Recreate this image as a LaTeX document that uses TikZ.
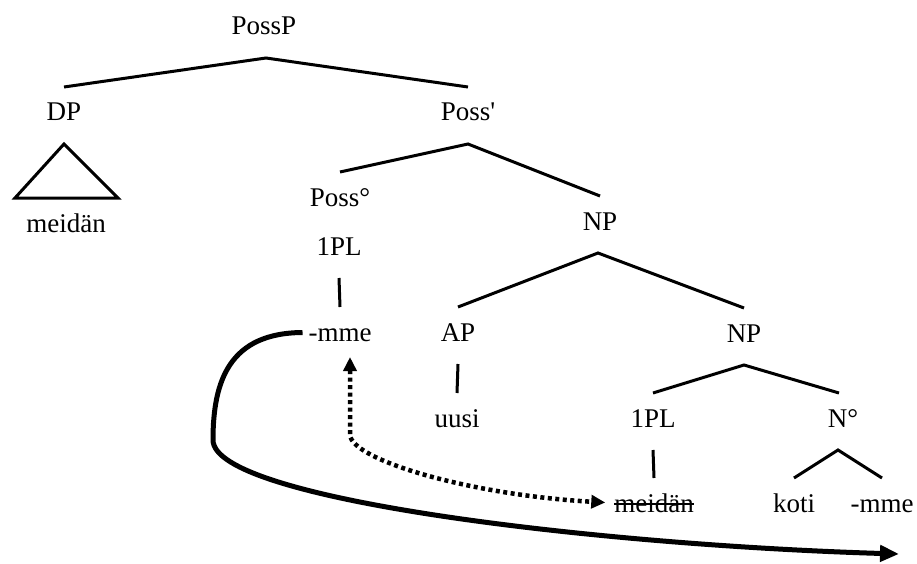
\documentclass[tikz,border=0pt]{standalone}
\usepackage{fontspec}
\setmainfont{Liberation Serif}
\newfontfamily\rawserif{Liberation Serif}
\usetikzlibrary{arrows.meta}
\begin{document}
\begin{tikzpicture}[x=1pt,y=-1pt,
  tn/.style={inner sep=0pt, outer sep=0pt, text height=34pt, text depth=23pt, anchor=base,
             font=\rawserif\fontsize{27pt}{32pt}\selectfont},
  branch/.style={line width=3pt, line cap=butt},
  movearrow/.style={line width=5pt, -{Triangle[length=19pt,width=16pt]}},
  dotarrow/.style={line width=4.5pt, dash pattern=on 4pt off 3.5pt,
                   {Triangle[length=14pt,width=13pt]}-{Triangle[length=14pt,width=13pt]}},
  strike/.style={line width=1.6pt}]
\useasboundingbox (0,0) rectangle (917,564);

% nodes
\node[tn] (possp)   at (264,35)  {PossP};
\node[tn] (dp)      at (64,121)  {DP};
\node[tn] (possbar) at (468,121) {Poss'};
\node[tn] (dpm)     at (66,232)  {meidän};
\node[tn] (possdeg) at (340,206) {Poss°};
\node[tn] (plA)     at (339,255) {1PL};
\node[tn] (mmeA)    at (340,341) {-mme};
\node[tn] (npA)     at (600,230) {NP};
\node[tn] (ap)      at (458,341) {AP};
\node[tn] (uusi)    at (457,427) {uusi};
\node[tn] (npB)     at (744,342) {NP};
\node[tn] (plB)     at (653,427) {1PL};
\node[tn] (ndeg)    at (843,427) {N°};
\node[tn] (meidB)   at (654,512) {meidän};
\node[tn] (koti)    at (794,512) {koti};
\node[tn] (mmeB)    at (882,512) {-mme};
\coordinate (arrowend) at (899,554);

% branches
\draw[branch] (dp.north) -- ([xshift=2pt]possp.south) -- (possbar.north);
\draw[branch] (possdeg.north) -- (possbar.south) -- (npA.north);
\draw[branch] (plA.south) -- (mmeA.north);
\draw[branch] (ap.north) -- ([xshift=-2pt]npA.south) -- (npB.north);
\draw[branch] (ap.south) -- (uusi.north);
\draw[branch] (plB.north) -- (npB.south) -- ([xshift=-4pt]ndeg.north);
\draw[branch] (plB.south) -- (meidB.north);
\draw[branch] (koti.north) -- ([xshift=-5pt]ndeg.south) -- (mmeB.north);
\draw[branch, line join=miter] (dp.south) -- ([xshift=-51pt]dpm.north) -- ([xshift=52pt]dpm.north) -- cycle;

% strike-through
\draw[strike] ([yshift=8pt]meidB.base west) -- ([yshift=8pt]meidB.base east);

% movement arrows
\draw[movearrow] ([xshift=-6pt,yshift=3pt]mmeA.west)
  .. controls (230,333) and (213,380) .. (213,440)
  .. controls (213,500) and (600,545) .. (arrowend);
\draw[dotarrow] ([xshift=10pt,yshift=7pt]mmeA.south) -- (350,435)
  .. controls (352,460) and (470,495) .. ([xshift=-9pt,yshift=4pt]meidB.west);
\end{tikzpicture}
\end{document}
